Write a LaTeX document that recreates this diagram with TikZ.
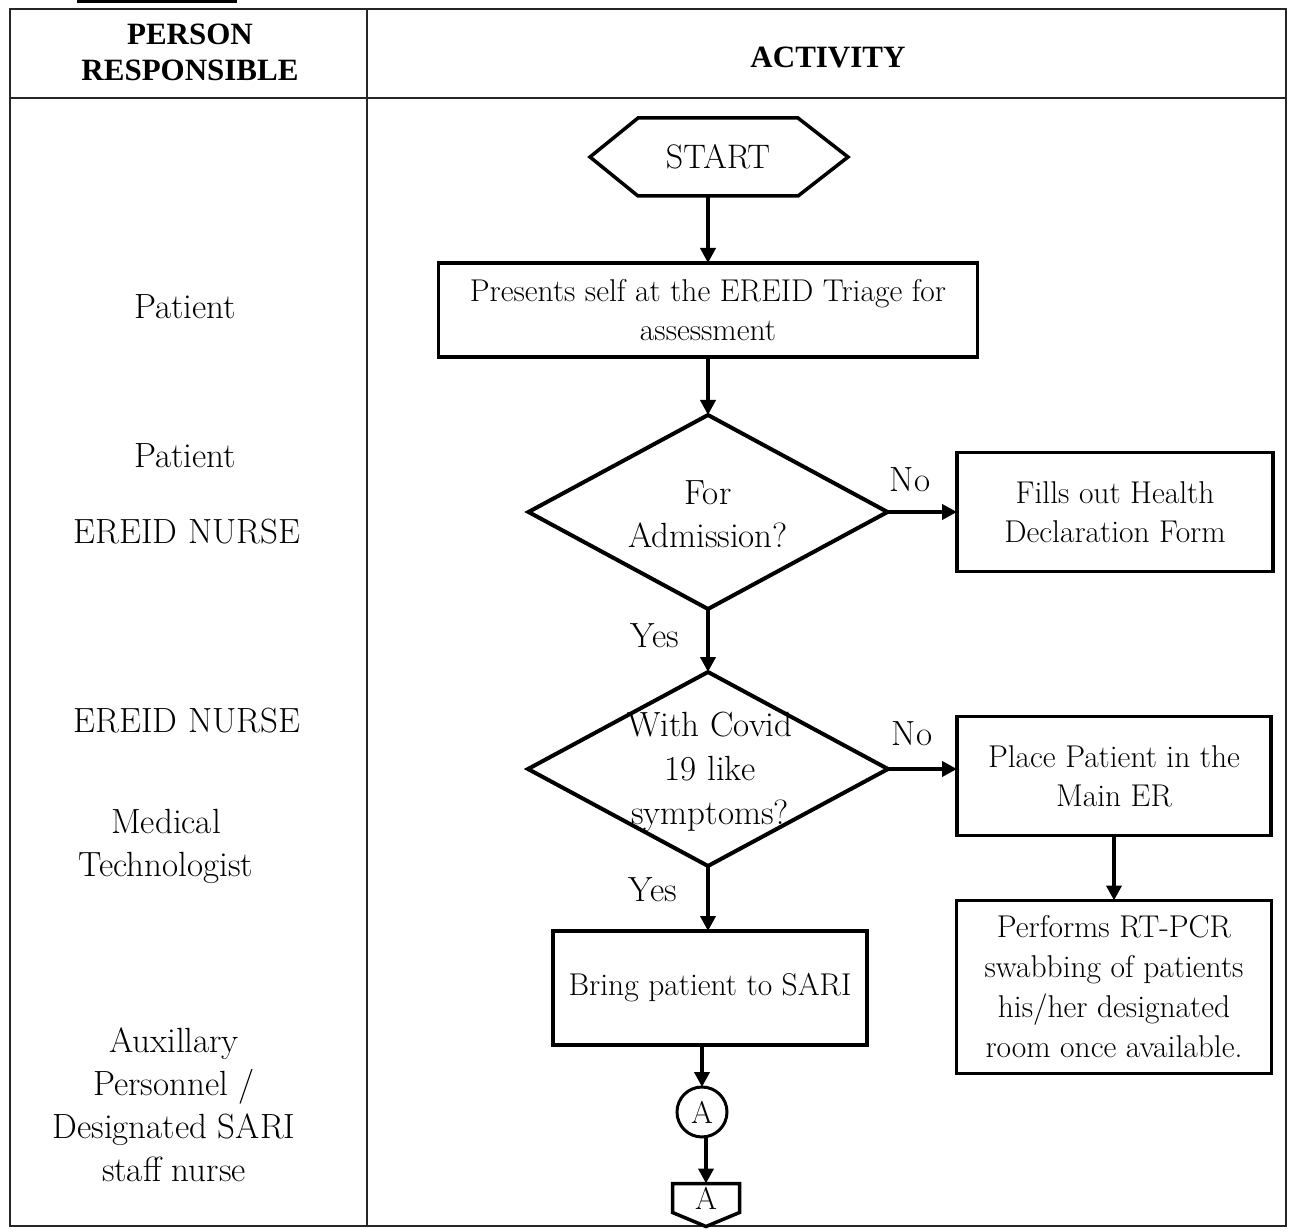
\documentclass[tikz,border=0pt]{standalone}
\usepackage{fontspec}
\newfontfamily\headfont{Liberation Serif}
\usetikzlibrary{shapes.geometric,arrows.meta,positioning,calc}

\begin{document}
\begin{tikzpicture}[
		x=1pt, y=-1pt,
		every node/.style={font=\fontsize{31.5}{39}\selectfont, inner sep=0pt, outer sep=0pt, align=center},
		headtxt/.style={font=\headfont\bfseries\fontsize{31}{36}\selectfont},
		roletxt/.style={font=\fontsize{35}{43}\selectfont},
		asktxt/.style={font=\fontsize{35}{43}\selectfont},
		tabline/.style={line width=1.3pt, black!85},
		procbox/.style={draw, rectangle, line width=3.5pt},
		decision/.style={draw, diamond, line width=4pt},
		flowline/.style={line width=4pt, -{Triangle[length=15pt,width=15pt]}}
	]
	\useasboundingbox (0,0) rectangle (1291,1230);

	% table frame
	\fill (77,0) rectangle (237,3);
	\draw[tabline] (10,9) rectangle (1286,1226);
	\draw[tabline] (10,98) -- (1286,98);
	\draw[tabline] (367,9) -- (367,1226);

	\node[headtxt] (headperson) at (190,52) {PERSON\\RESPONSIBLE};
	\node[headtxt] (headactivity) at (828,57) {ACTIVITY};

	% who does it
	\node[roletxt] (patient1) at (185,307) {Patient};
	\node[roletxt] (patient2) at (185,456) {Patient};
	\node[roletxt] (nurse1) at (187,532) {EREID NURSE};
	\node[roletxt] (nurse2) at (187,721) {EREID NURSE};
	\node[roletxt] (medtech) at (166,846) {Medical\\Technologist};
	\node[roletxt] (auxstaff) at (174,1105) {Auxillary\\Personnel /\\Designated SARI\\staff nurse};

	% flow
	\node[minimum width=160pt, minimum height=78pt, font=\fontsize{34}{40}\selectfont] (start) at (718,157) {START};
	\draw[line width=3.5pt] (start.north west) -- (start.north east) -- ([xshift=50pt]start.east)
		-- (start.south east) -- (start.south west) -- ([xshift=-48pt]start.west) -- cycle;

	\node[procbox, minimum width=539pt, minimum height=94pt] (present) at (708,310)
		{Presents self at the EREID Triage for\\assessment};
	\node[decision, minimum width=359pt, minimum height=194pt] (admit) at (708,512) {};
	\node[asktxt] (admittxt) at (708,514) {For\\Admission?};
	\node[procbox, minimum width=316pt, minimum height=119pt] (fillform) at (1115,512)
		{Fills out Health\\Declaration Form};

	\node[decision, minimum width=360pt, minimum height=194pt] (covid) at (708,769) {};
	\node[asktxt, font=\fontsize{35}{44}\selectfont] (covidtxt) at (710,772) {With Covid\\19 like\\symptoms?};
	\node[procbox, minimum width=314pt, minimum height=119pt] (mainer) at (1114,776)
		{Place Patient in the\\Main ER};
	\node[procbox, minimum width=315pt, minimum height=173pt, font=\fontsize{31.5}{40}\selectfont] (swab) at (1114,987)
		{Performs RT-PCR\\swabbing of patients\\his/her designated\\room once available.};

	\node[procbox, minimum width=314pt, minimum height=114pt] (sari) at (710,988) {Bring patient to SARI};
	\node[draw, circle, line width=3pt, minimum size=50pt] (conA) at (702,1112) {A};
	\node[minimum width=67pt, minimum height=29pt] (pageA) at (706,1198) {A};
	\draw[line width=3.5pt] (pageA.north west) -- (pageA.north east) -- (pageA.south east)
		-- ([yshift=-14pt]pageA.south) -- (pageA.south west) -- cycle;

	\node[asktxt] (no1) at (910,480) {No};
	\node[asktxt] (yes1) at (655,636) {Yes};
	\node[asktxt] (no2) at (912,734) {No};
	\node[asktxt] (yes2) at (653,890) {Yes};

	\draw[flowline] (start.south -| present.north) -- (present.north);
	\draw[flowline] (present.south) -- (admit.north);
	\draw[flowline] (admit.east) -- (fillform.west);
	\draw[flowline] (admit.south) -- (covid.north);
	\draw[flowline] (covid.east) -- (covid.east -| mainer.west);
	\draw[flowline] (mainer.south) -- (swab.north);
	\draw[flowline] (covid.south) -- (covid.south |- sari.north);
	\draw[flowline] (sari.south -| conA.north) -- (conA.north);
	\draw[flowline] (conA.south -| pageA.north) -- (pageA.north);
\end{tikzpicture}
\end{document}
